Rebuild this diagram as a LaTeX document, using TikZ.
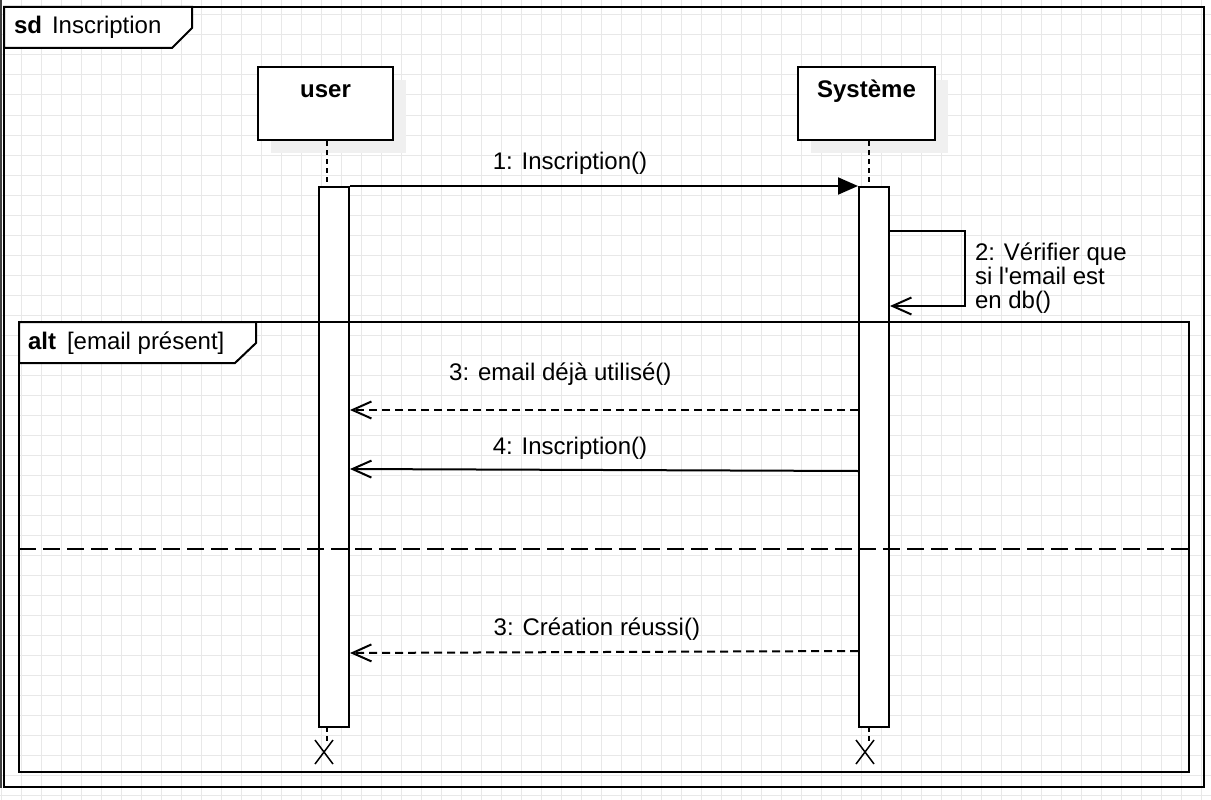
\documentclass[tikz,border=0pt]{standalone}
\usepackage{fontspec}
\setmainfont{Liberation Sans}[Ligatures=TeXOff]
\usepackage{tikz}
\usetikzlibrary{arrows.meta,positioning}

\begin{document}
\begin{tikzpicture}[x=1pt,y=-1pt,line width=2pt,
                    font=\fontsize{24}{24}\selectfont,
                    open/.style={-{Straight Barb[length=19pt,width=17pt]}},
                    call/.style={-{Triangle[length=20pt,width=17pt]}}]
    \tikzstyle{gridline}=[line width=1pt,draw=gray!18]
    \tikzstyle{lifebox}=[draw,fill=white,inner sep=0pt,minimum height=73pt]
    \tikzstyle{shadowbox}=[fill=gray!12,inner sep=0pt,minimum height=73pt]
    \tikzstyle{actbar}=[draw,fill=white,inner sep=0pt,minimum width=30pt,minimum height=540pt]
    \tikzstyle{lifeline}=[dash pattern=on 5pt off 4pt]
    \tikzstyle{reply}=[open,dash pattern=on 8pt off 5pt]
    \tikzstyle{msglabel}=[anchor=base,inner sep=0pt]
    \tikzstyle{kill}=[line width=1.5pt]

    \useasboundingbox (0,0) rectangle (1211,800);
    % grid of the editor
    \foreach \i in {0,...,60} \draw[gridline] (1.7+20*\i,0) -- ++(0,800);
    \foreach \j in {0,...,39} \draw[gridline] (0,15+20*\j) -- ++(1211,0);
    \fill[black!75] (0,0) rectangle (2,788);

    % sd frame
    \draw (4,7) rectangle (1204,787);
    \draw[fill=white] (4,7) -- (192,7) -- (192,28) -- (172,48) -- (4,48) -- cycle;
    \node[anchor=base west,inner sep=0pt] (sdlabel) at (13,34) {\textbf{sd}\hspace{10pt}Inscription};

    % lifelines
    \node[shadowbox,minimum width=135pt] at (338.5,116.5) {};
    \node[shadowbox,minimum width=137pt] at (879.5,116.5) {};
    \node[lifebox,minimum width=135pt] (user) at (325.5,103.5) {};
    \node[lifebox,minimum width=137pt] (sys)  at (866.5,103.5) {};
    \node[msglabel] at ([yshift=-32pt]user.north) {\textbf{user}};
    \node[msglabel] at ([yshift=-32pt]sys.north)  {\textbf{Système}};

    \node[actbar] (useract) at (334,457) {};
    \node[actbar] (sysact)  at (874,457) {};

    \draw[lifeline] ([xshift=1.5pt]user.south) -- ([xshift=1.5pt]user.south |- useract.north);
    \draw[lifeline] ([xshift=2.5pt]sys.south)  -- ([xshift=2.5pt]sys.south |- sysact.north);
    \draw[lifeline] (327,727) -- ++(0,14);
    \draw[lifeline] (869,727) -- ++(0,14);

    \coordinate (userx) at (324,752);
    \coordinate (sysx)  at (865,752);
    \draw[kill] ([shift={(-9,-12)}]userx) -- ([shift={(9,12)}]userx)
                ([shift={(-9,12)}]userx) -- ([shift={(9,-12)}]userx);
    \draw[kill] ([shift={(-9,-12)}]sysx) -- ([shift={(9,12)}]sysx)
                ([shift={(-9,12)}]sysx) -- ([shift={(9,-12)}]sysx);

    % alt fragment
    \draw (19,322) rectangle (1189,772);
    \draw[fill=white] (19,322) -- (256,322) -- (256,343) -- (235,363) -- (19,363) -- cycle;
    \node[anchor=base west,inner sep=0pt] (altlabel) at (27,349) {\textbf{alt}\hspace{11pt}[email présent]};
    \draw[dash pattern=on 17pt off 7pt] (19,549) -- (1189,549);

    % messages
    \draw[call] (useract.north east) -- (sysact.north west)
        node[msglabel,pos=0.433,yshift=17pt] {1: Inscription()};
    \draw[open] ([yshift=-45pt]sysact.north east) -- ++(75,0) -- ++(0,75) -- ++(-75,0);
    \node[anchor=base west,align=left,inner sep=0pt] (selflabel) at (974,308)
        {2: Vérifier que\\si l'email est\\en db()};
    \draw[reply] ([yshift=-224pt]sysact.north west) -- ([yshift=-224pt]useract.north east)
        node[msglabel,pos=0.586,yshift=30pt] {3: email déjà utilisé()};
    \draw[open] ([yshift=-285pt]sysact.north west) -- ([yshift=-283pt]useract.north east)
        node[msglabel,pos=0.567,yshift=15pt] {4: Inscription()};
    \draw[reply] ([yshift=-465pt]sysact.north west) -- ([yshift=-467pt]useract.north east)
        node[msglabel,pos=0.514,yshift=17pt] {3: Création réussi()};
\end{tikzpicture}
\end{document}
